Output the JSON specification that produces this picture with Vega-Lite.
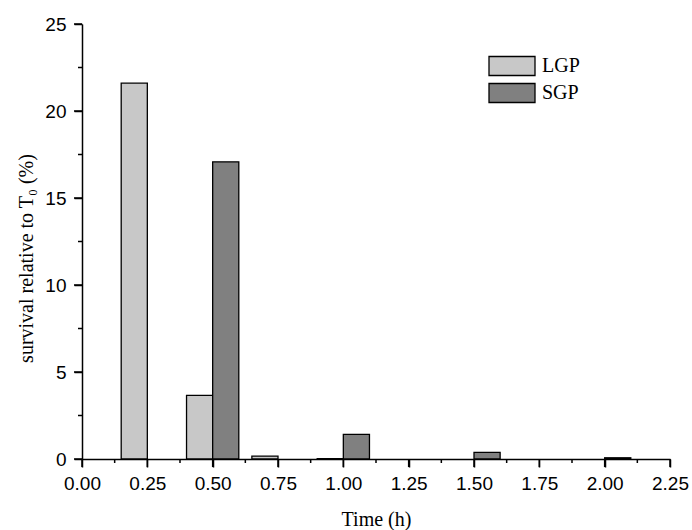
{
  "$schema": "https://vega.github.io/schema/vega-lite/v6.json",
  "width": 588,
  "height": 435,
  "autosize": {"type": "none"},
  "padding": {"left": 82, "top": 24, "right": 22, "bottom": 71},
  "background": "white",
  "config": {
    "view": {"stroke": null},
    "axis": {
      "grid": false,
      "ticks": true,
      "domainColor": "black", "domainWidth": 1.5,
      "tickColor": "black", "tickWidth": 1.5,
      "labelFont": "Liberation Sans", "labelFontSize": 19, "labelColor": "black",
      "labelFlush": false, "labelOverlap": false,
      "titleFont": "Liberation Serif", "titleFontSize": 20, "titleFontWeight": "normal", "titleColor": "black"
    }
  },
  "datasets": {
    "bars": [
      {"start": 0.15, "end": 0.25, "group": "LGP", "value": 21.6},
      {"start": 0.40, "end": 0.50, "group": "LGP", "value": 3.66},
      {"start": 0.50, "end": 0.60, "group": "SGP", "value": 17.08},
      {"start": 0.65, "end": 0.75, "group": "LGP", "value": 0.17},
      {"start": 0.90, "end": 1.00, "group": "LGP", "value": 0.02},
      {"start": 1.00, "end": 1.10, "group": "SGP", "value": 1.42},
      {"start": 1.50, "end": 1.60, "group": "SGP", "value": 0.38},
      {"start": 2.00, "end": 2.10, "group": "SGP", "value": 0.07}
    ],
    "xMajor": [{"start": 0}, {"start": 0.25}, {"start": 0.5}, {"start": 0.75}, {"start": 1}, {"start": 1.25}, {"start": 1.5}, {"start": 1.75}, {"start": 2}, {"start": 2.25}],
    "xMinor": [{"start": 0.125}, {"start": 0.375}, {"start": 0.625}, {"start": 0.875}, {"start": 1.125}, {"start": 1.375}, {"start": 1.625}, {"start": 1.875}, {"start": 2.125}],
    "yMajor": [{"value": 0}, {"value": 5}, {"value": 10}, {"value": 15}, {"value": 20}, {"value": 25}],
    "yMinor": [{"value": 2.5}, {"value": 7.5}, {"value": 12.5}, {"value": 17.5}, {"value": 22.5}]
  },
  "layer": [
    {
      "data": {"name": "bars"},
      "mark": {"type": "bar", "stroke": "black", "strokeWidth": 1.3},
      "encoding": {
        "x": {
          "field": "start", "type": "quantitative",
          "scale": {"domain": [0, 2.25], "nice": false, "zero": false},
          "axis": {
            "title": "Time (h)",
            "values": [0, 0.25, 0.5, 0.75, 1, 1.25, 1.5, 1.75, 2, 2.25],
            "format": ".2f",
            "tickSize": 8,
            "labelPadding": 7,
            "titlePadding": 16
          }
        },
        "x2": {"field": "end"},
        "y": {
          "field": "value", "type": "quantitative",
          "scale": {"domain": [0, 25], "nice": false},
          "axis": {
            "title": "survival relative to T₀ (%)",
            "values": [0, 5, 10, 15, 20, 25],
            "format": "d",
            "tickSize": 8,
            "labelPadding": 8,
            "titleX": -50,
            "titleY": 234,
            "titleBaseline": "alphabetic"
          }
        },
        "y2": {"datum": 0},
        "fill": {
          "field": "group", "type": "nominal",
          "scale": {"domain": ["LGP", "SGP"], "range": ["#c8c8c8", "#808080"]},
          "legend": {
            "title": null,
            "orient": "none",
            "legendX": 419,
            "legendY": 31,
            "symbolType": "M-2.3,-0.95H2.3V0.95H-2.3Z",
            "symbolSize": 400,
            "symbolStrokeColor": "black",
            "symbolStrokeWidth": 1.3,
            "symbolOpacity": 1,
            "rowPadding": 1,
            "labelFont": "Liberation Serif",
            "labelFontSize": 20,
            "labelColor": "black",
            "labelOffset": 19
          }
        }
      }
    },
    {
      "data": {"name": "xMajor"},
      "mark": {"type": "tick", "orient": "vertical", "color": "black", "opacity": 1, "size": 8, "thickness": 1.5, "yOffset": 4},
      "encoding": {
        "x": {"field": "start", "type": "quantitative"},
        "y": {"datum": 0}
      }
    },
    {
      "data": {"name": "xMinor"},
      "mark": {"type": "tick", "orient": "vertical", "color": "black", "opacity": 1, "size": 4, "thickness": 1.5, "yOffset": 2},
      "encoding": {
        "x": {"field": "start", "type": "quantitative"},
        "y": {"datum": 0}
      }
    },
    {
      "data": {"name": "yMajor"},
      "mark": {"type": "tick", "orient": "horizontal", "color": "black", "opacity": 1, "size": 8, "thickness": 1.5, "xOffset": -4},
      "encoding": {
        "y": {"field": "value", "type": "quantitative"},
        "x": {"datum": 0}
      }
    },
    {
      "data": {"name": "yMinor"},
      "mark": {"type": "tick", "orient": "horizontal", "color": "black", "opacity": 1, "size": 4, "thickness": 1.5, "xOffset": -2},
      "encoding": {
        "y": {"field": "value", "type": "quantitative"},
        "x": {"datum": 0}
      }
    }
  ]
}
